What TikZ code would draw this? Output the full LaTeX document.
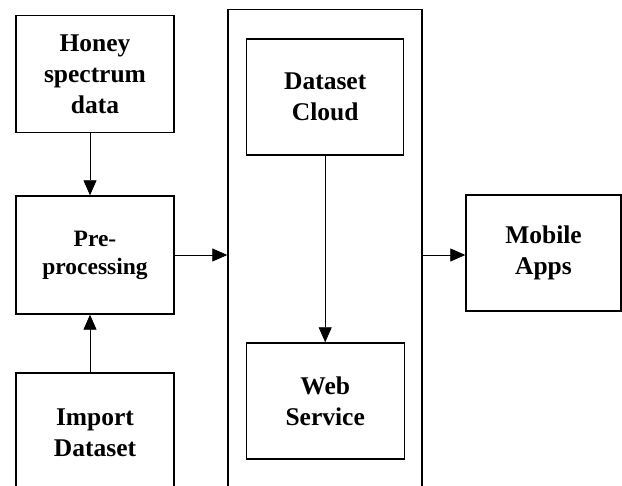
\documentclass[tikz,border=0pt]{standalone}
\usepackage{fontspec}
\setmainfont{Liberation Serif}
\usetikzlibrary{arrows.meta}

\tikzset{
  block/.style={draw, line width=1.4pt, fill=white, inner sep=0pt, align=center,
    font=\fontsize{25.5}{31}\selectfont\bfseries},
  frame/.style={draw, line width=1.4pt, inner sep=0pt},
  arr/.style={line width=0.8pt, -{Triangle[length=15pt,width=13pt]}}
}

\begin{document}
\begin{tikzpicture}[x=1pt, y=-1pt]
  \useasboundingbox (0,0) rectangle (622,486);
  \clip (0,0) rectangle (622,486);

  % outer container holding the cloud side
  \node[frame, minimum width=194pt, minimum height=491pt] (cont) at (325,254.75) {};

  % left column
  \node[block, minimum width=158pt, minimum height=117pt] (honey) at (95,74.2)
    {Honey\\spectrum\\data};
  \node[block, minimum width=158pt, minimum height=118pt,
        font=\fontsize{23.5}{28}\selectfont\bfseries] (pre) at (95,255)
    {Pre-\\processing};
  \node[block, minimum width=158pt, minimum height=120pt] (imp) at (95,433)
    {Import\\Dataset};

  % inside the container
  \node[block, minimum width=157pt, minimum height=116pt] (cloud) at (325.2,97)
    {Dataset\\Cloud};
  \node[block, minimum width=158pt, minimum height=116pt] (web) at (325.2,401)
    {Web\\Service};

  % right side
  \node[block, minimum width=155pt, minimum height=116pt] (mob) at (543.5,253)
    {Mobile\\Apps};

  % connectors
  \draw[arr] ([xshift=-5pt]honey.south) -- ([xshift=-5pt]pre.north);
  \draw[arr] ([xshift=-5pt]imp.north) -- ([xshift=-5pt]pre.south);
  \draw[arr] (pre.east) -- (pre.east -| cont.west);
  \draw[arr] (cloud.south) -- (web.north);
  \draw[arr] ([yshift=-2pt]mob.west -| cont.east) -- ([yshift=-2pt]mob.west);
\end{tikzpicture}
\end{document}
